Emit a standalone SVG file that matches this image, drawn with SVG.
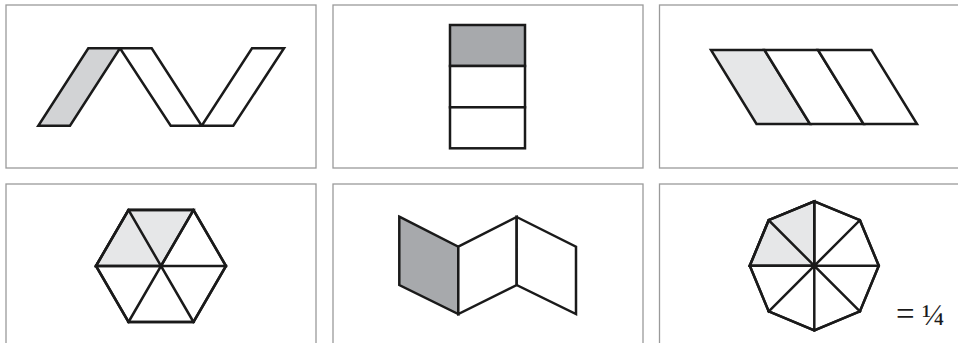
<svg xmlns="http://www.w3.org/2000/svg" width="958" height="343" viewBox="0 0 958 343">
<style>
.frame{fill:none;stroke:#9a9a9a;stroke-width:1.3}
.s{stroke:#1a1a1a;stroke-width:2.5;stroke-linejoin:miter;stroke-linecap:square}
.w{fill:#ffffff}
.g1{fill:#d2d3d5}
.g2{fill:#a7a9ac}
.g3{fill:#e6e7e8}
.t{font-family:"Liberation Serif","Times New Roman",serif;fill:#1a1a1a}
</style>
<rect width="958" height="343" fill="#ffffff"/>
<g id="panel1">
<rect class="frame" x="6" y="5" width="310" height="163"/>
<polygon class="s g1" points="38.3,125.7 70,125.7 120,48.3 88.3,48.3"/>
<polygon class="s w" points="120,48.3 151.7,48.3 201.7,125.7 170.7,125.7"/>
<polygon class="s w" points="201.7,125.7 233.3,125.7 284,48.3 252,48.3"/>
</g>
<g id="panel2">
<rect class="frame" x="333" y="5" width="310" height="163"/>
<rect class="s g2" x="450" y="25" width="75" height="41"/>
<rect class="s w" x="450" y="66" width="75" height="41.3"/>
<rect class="s w" x="450" y="107.3" width="75" height="41"/>
</g>
<g id="panel3">
<rect class="frame" x="659.5" y="5" width="310" height="163"/>
<polygon class="s g3" points="711,50 764.5,50 810,124 756.5,124"/>
<polygon class="s w" points="764.5,50 818,50 863.5,124 810,124"/>
<polygon class="s w" points="818,50 871.5,50 917,124 863.5,124"/>
</g>
<g id="panel4">
<rect class="frame" x="6" y="184" width="310" height="170"/>
<polygon class="s w" points="128.5,210 193.5,210 226,266 193.5,322 128.5,322 96,266"/>
<polygon class="s g3" points="96,266 128.5,210 193.5,210 161,266"/>
<path class="s" fill="none" d="M128.5,210 L193.5,322 M193.5,210 L128.5,322 M96,266 L226,266"/>
<polygon class="s" fill="none" points="128.5,210 193.5,210 226,266 193.5,322 128.5,322 96,266"/>
</g>
<g id="panel5">
<rect class="frame" x="333" y="184" width="310" height="170"/>
<polygon class="s g2" points="399.3,216.7 458.3,246.7 458.3,314 399.3,285"/>
<polygon class="s w" points="458.3,246.7 516.7,217 516.7,285 458.3,314"/>
<polygon class="s w" points="516.7,217 576,246.7 576,314 516.7,285"/>
</g>
<g id="panel6">
<rect class="frame" x="659.5" y="184" width="310" height="170"/>
<polygon class="s w" points="814.3,201.3 859.9,220.2 878.8,265.8 859.9,311.4 814.3,330.3 768.7,311.4 749.8,265.8 768.7,220.2"/>
<polygon class="s g3" points="749.8,265.8 768.7,220.2 814.3,201.3 814.3,265.8"/>
<path class="s" fill="none" d="M814.3,201.3 L814.3,330.3 M749.8,265.8 L878.8,265.8 M768.7,220.2 L859.9,311.4 M859.9,220.2 L768.7,311.4"/>
<polygon class="s" fill="none" points="814.3,201.3 859.9,220.2 878.8,265.8 859.9,311.4 814.3,330.3 768.7,311.4 749.8,265.8 768.7,220.2"/>
<text class="t" y="325"><tspan x="896" font-size="33">=</tspan><tspan x="922" font-size="30">¼</tspan></text>
</g>
</svg>
